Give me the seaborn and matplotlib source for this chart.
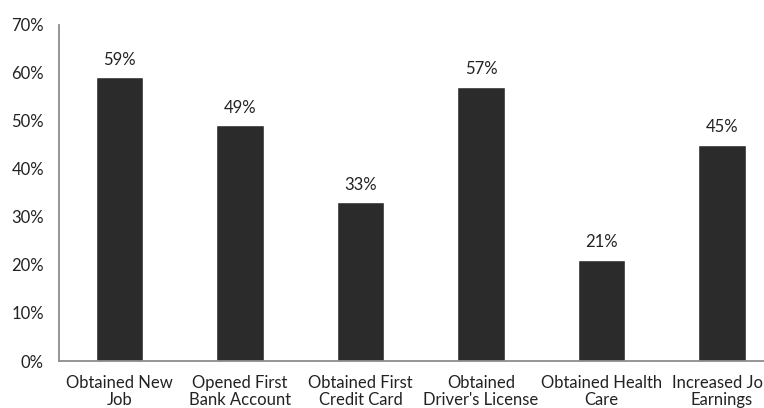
import matplotlib
matplotlib.use("Agg")
import matplotlib.pyplot as plt
import seaborn as sns
import pandas as pd

categories = ["Obtained New\nJob", "Opened First\nBank Account", "Obtained First\nCredit Card",
              "Obtained\nDriver's License", "Obtained Health\nCare", "Increased Job\nEarnings"]
values = [59, 49, 33, 57, 21, 45]
yticks = [0, 10, 20, 30, 40, 50, 60, 70]

sns.set_theme(style="white")
plt.rcParams['font.family'] = ['Lato', 'DejaVu Sans']

df = pd.DataFrame({"cat": categories, "val": values})

fig = plt.figure(figsize=(7.64, 4.08), dpi=100)
ax = fig.add_axes([59.25 / 764, 47 / 408, 723 / 764, 336.5 / 408])
sns.barplot(data=df, x="cat", y="val", color="#2b2b2b", saturation=1, width=0.395, ax=ax)
ax.set_xlim(-0.5, 5.5)
ax.set_ylim(0, 70)
ax.set_yticks(yticks)
ax.set_yticklabels([f"{t}%" for t in yticks], fontsize=12, color="#222222")
ax.tick_params(axis="y", length=0, pad=11)
ax.tick_params(axis="x", length=0, pad=10, labelsize=12, labelcolor="#222222")
for lab in ax.get_xticklabels():
    lab.set_linespacing(1.12)
ax.set_xlabel("")
ax.set_ylabel("")
for s in ["top", "right"]:
    ax.spines[s].set_visible(False)
for s in ["left", "bottom"]:
    ax.spines[s].set_color("#8c8c8c")
    ax.spines[s].set_linewidth(1.3)
for c in ax.containers:
    ax.bar_label(c, labels=[f"{v}%" for v in values], padding=7, fontsize=12, color="#222222")
fig.savefig("out.png", dpi=100)
